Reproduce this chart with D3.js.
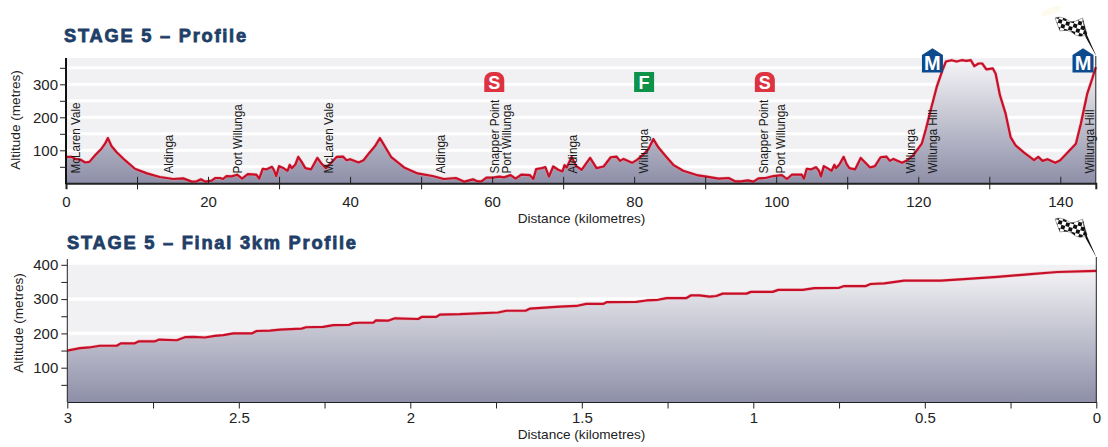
<!DOCTYPE html>
<html>
<head>
<meta charset="utf-8">
<script src="https://cdn.jsdelivr.net/npm/d3@7"></script>
<style>
  html, body { margin: 0; padding: 0; background: #fff; }
  svg { display: block; }
  text { font-family: "Liberation Sans", Arial, sans-serif; fill: #222; }
  .title { font-weight: bold; fill: #1f3f68; stroke: #1f3f68; stroke-width: 0.8px; }
</style>
</head>
<body>
<script>
const stageKm = [0, 0.8, 1.3, 2, 2.7, 3.3, 4.1, 5, 5.5, 5.9, 6.4, 7.1, 8.3, 9.7, 11.4, 13.2, 15.1, 16.5, 17.7, 18.4, 19, 19.6, 20.5, 21, 21.7, 22.1, 22.6, 23.3, 24.1, 24.8, 25.6, 26.8, 27.2, 27.7, 28.2, 29, 29.3, 29.6, 30, 30.6, 31.2, 31.5, 31.8, 32.3, 32.7, 33.2, 33.7, 34.5, 35.4, 36, 36.6, 37.2, 38.1, 39, 39.5, 40, 41.2, 41.9, 42.7, 43.5, 44.2, 45.8, 47.6, 49.5, 51.6, 53.2, 54.9, 56.1, 57.3, 57.9, 58.5, 59.2, 60.1, 61, 61.7, 62.6, 63.3, 64.1, 65.3, 65.8, 66.2, 66.8, 67.5, 68, 68.6, 69.3, 69.9, 70.2, 70.5, 71.2, 71.8, 72.6, 73.8, 74.7, 75.7, 76.7, 77.5, 78, 78.5, 79.7, 80.4, 81.3, 82, 82.7, 83.4, 84.3, 85.5, 86.9, 88.8, 90.2, 91.9, 93.3, 94.2, 95, 96, 96.8, 97.5, 98.5, 99.6, 100.8, 101.5, 102.2, 103.6, 103.9, 104.3, 104.9, 105.6, 106, 106.3, 106.7, 107.2, 107.8, 108.2, 108.4, 108.9, 109.5, 109.9, 110.3, 111.1, 111.9, 112.7, 113.2, 113.9, 114.7, 115.5, 116, 116.5, 117.7, 118.4, 119.3, 120.5, 121.1, 121.8, 122.6, 123.4, 123.9, 124.7, 125.4, 126.1, 126.8, 127.4, 127.9, 128.5, 129, 129.6, 130.5, 130.9, 131.5, 132.3, 133, 133.7, 134.9, 136.3, 136.9, 137.5, 138.2, 139.3, 140, 142.2, 142.9, 143.8, 144.5, 145];
const stageAlt = [80, 80, 74, 72, 63, 65, 85, 105, 120, 137, 113, 95, 70, 44, 30, 19, 13, 15, 5, 6, 12, 5, 8, 16, 16, 13, 22, 21, 26, 14, 28, 26, 14, 44, 42, 50, 39, 22, 52, 46, 38, 56, 46, 57, 80, 64, 46, 42, 77, 59, 46, 59, 80, 81, 70, 73, 63, 70, 92, 112, 137, 79, 48, 30, 22, 13, 16, 5, 12, 6, 6, 17, 17, 20, 18, 25, 14, 26, 25, 13, 43, 45, 49, 20, 51, 41, 36, 55, 48, 80, 53, 41, 77, 46, 51, 79, 81, 68, 74, 62, 71, 87, 103, 134, 109, 86, 56, 38, 25, 20, 14, 16, 6, 6, 9, 5, 15, 16, 22, 25, 13, 26, 26, 14, 44, 42, 49, 39, 21, 52, 46, 38, 56, 46, 57, 80, 59, 46, 42, 77, 59, 48, 52, 79, 81, 68, 74, 62, 69, 85, 120, 166, 226, 292, 342, 369, 373, 369, 373, 371, 373, 355, 363, 363, 345, 348, 332, 267, 211, 140, 115, 93, 70, 80, 68, 73, 62, 70, 120, 181, 272, 317, 352];

const finalKm = [3, 2.963, 2.936, 2.905, 2.856, 2.844, 2.803, 2.791, 2.744, 2.732, 2.681, 2.657, 2.633, 2.599, 2.57, 2.545, 2.516, 2.462, 2.448, 2.409, 2.38, 2.317, 2.304, 2.254, 2.224, 2.178, 2.166, 2.147, 2.108, 2.1, 2.065, 2.045, 1.977, 1.967, 1.924, 1.914, 1.856, 1.744, 1.72, 1.664, 1.652, 1.564, 1.516, 1.487, 1.438, 1.428, 1.341, 1.312, 1.278, 1.253, 1.195, 1.181, 1.157, 1.127, 1.108, 1.089, 1.02, 1.007, 0.944, 0.927, 0.856, 0.822, 0.75, 0.735, 0.672, 0.658, 0.618, 0.56, 0.453, 0.375, 0.288, 0.191, 0.113, 0];
const finalAlt = [150, 157, 159, 164, 164, 171, 171, 177, 177, 182, 180, 189, 190, 188, 193, 195, 200, 200, 207, 208, 211, 214, 218, 219, 224, 225, 230, 231, 231, 238, 237, 244, 242, 248, 248, 255, 256, 261, 266, 266, 272, 278, 280, 286, 286, 291, 292, 296, 298, 303, 303, 311, 311, 307, 309, 316, 316, 321, 321, 327, 327, 332, 333, 338, 338, 344, 346, 354, 354, 359, 365, 373, 379, 382];

const placeNames = ["McLaren Vale", "Aldinga", "Port Willunga", "McLaren Vale", "Aldinga", "Snapper Point", "Port Willunga", "Aldinga", "Willunga", "Snapper Point", "Port Willunga", "Willunga", "Willunga Hill", "Willunga Hill"];
const placeKm = [1.4, 14.5, 24.2, 37, 52.8, 60.4, 62.1, 71.4, 81.3, 98.3, 100.6, 118.9, 122, 144.1];

const markerTypes = ["S", "F", "S", "M", "M"];
const markerKm = [60.3, 81.4, 98.4, 122, 143.2];

const stageTicks = d3.range(0, 141, 10);
const stageAltTicks = [50, 100, 150, 200, 250, 300, 350];
const finalTicks = [3, 2.75, 2.5, 2.25, 2, 1.75, 1.5, 1.25, 1, 0.75, 0.5, 0.25, 0];
const finalAltTicks = [50, 100, 150, 200, 250, 300, 350, 400];

const width = 1108, height = 447;
const lineRed = "#c70f28";

const svg = d3.select("body").append("svg")
  .attr("width", width)
  .attr("height", height);
const defs = svg.append("defs");

// Area gradient, one per panel
function addGradient(id, y1, y2) {
  const g = defs.append("linearGradient")
    .attr("id", id)
    .attr("gradientUnits", "userSpaceOnUse")
    .attr("x1", 0).attr("x2", 0).attr("y1", y1).attr("y2", y2);
  g.append("stop").attr("offset", "0%").attr("stop-color", "#f5f5f7");
  g.append("stop").attr("offset", "100%").attr("stop-color", "#8e8fa8");
}

function drawPanel(opts) {
  const { km, alt, x, y, gradId, bandTop, whiteLines, whiteWidth, title, titleX, titleY, titleSize } = opts;
  const g = svg.append("g");
  const [x0, x1] = x.range();
  const baseY = y(0);

  addGradient(gradId, bandTop + 2, baseY);

  g.append("rect")
    .attr("x", x0).attr("y", bandTop)
    .attr("width", x1 - x0).attr("height", baseY - bandTop)
    .attr("fill", "#f1f1f3");

  g.selectAll(".white")
    .data(whiteLines)
    .join("rect")
    .attr("x", x0)
    .attr("width", x1 - x0)
    .attr("y", d => y(d) - whiteWidth / 2)
    .attr("height", whiteWidth)
    .attr("fill", "#fff");

  const pts = d3.zip(km, alt);

  g.append("path")
    .datum(pts)
    .attr("fill", `url(#${gradId})`)
    .attr("d", d3.area().x(d => x(d[0])).y0(baseY).y1(d => y(d[1])));

  const line = d3.line().x(d => x(d[0])).y(d => y(d[1]));
  // soft pink edge seen round the printed line
  g.append("path")
    .datum(pts)
    .attr("fill", "none")
    .attr("stroke", "#f0a0aa")
    .attr("stroke-opacity", 0.5)
    .attr("stroke-width", 3.4)
    .attr("stroke-linejoin", "round")
    .attr("d", line);
  g.append("path")
    .datum(pts)
    .attr("fill", "none")
    .attr("stroke", lineRed)
    .attr("stroke-width", 2.2)
    .attr("stroke-linejoin", "round")
    .attr("d", line);

  g.append("text")
    .attr("class", "title")
    .attr("x", titleX).attr("y", titleY)
    .style("font-size", titleSize + "px")
    .style("letter-spacing", "1.75px")
    .text(title);

  return g;
}

// Stage panel
const xStage = d3.scaleLinear().domain([0, 145]).range([66, 1095.8]);
const yStage = d3.scaleLinear().domain([0, 100]).range([183.3, 150.3]);

const stagePanel = drawPanel({
  km: stageKm, alt: stageAlt, x: xStage, y: yStage,
  gradId: "gradStage", bandTop: 58, whiteLines: stageAltTicks, whiteWidth: 3,
  title: "STAGE 5 – Profile", titleX: 64, titleY: 42, titleSize: 18.3
});

// Place names
stagePanel.selectAll(".place")
  .data(placeNames)
  .join("text")
  .attr("transform", (d, i) => `translate(${xStage(placeKm[i]) + 4.3},173.5) rotate(-90) scale(0.94,1)`)
  .style("font-size", "12.4px")
  .style("fill", "#1a1a1a")
  .text(d => d);

// Axes
const stageXAxis = stagePanel.append("g")
  .attr("transform", `translate(0,${yStage(0)})`)
  .call(d3.axisBottom(xStage)
    .tickValues(stageTicks)
    .tickFormat(d => d % 20 === 0 ? d : "")
    .tickPadding(9));
stageXAxis.select(".domain").attr("stroke", "#222").attr("stroke-width", 2);
stageXAxis.selectAll(".tick line")
  .attr("stroke", "#222")
  .attr("stroke-width", 1)
  .attr("y1", -6.5)
  .attr("y2", d => d % 20 === 0 ? 0 : 6);
stageXAxis.selectAll(".tick text")
  .attr("y", 13).attr("dy", "0.71em")
  .style("font-size", "15px").style("font-family", null);

const stageYAxis = stagePanel.append("g")
  .attr("transform", "translate(66,0)")
  .call(d3.axisLeft(yStage)
    .tickValues(stageAltTicks)
    .tickFormat(d => d % 100 === 0 ? d : "")
    .tickSizeInner(6).tickSizeOuter(0).tickPadding(2));
stageYAxis.select(".domain")
  .attr("stroke", "#111").attr("stroke-width", 2)
  .attr("d", `M0,58V${yStage(0) + 1}`);
stageYAxis.selectAll(".tick line").attr("stroke", "#222");
stageYAxis.selectAll(".tick text").style("font-size", "15px");

stagePanel.append("line")
  .attr("x1", xStage(145)).attr("x2", xStage(145))
  .attr("y1", 56).attr("y2", yStage(0))
  .attr("stroke", "#222").attr("stroke-width", 1);

stagePanel.append("text")
  .attr("transform", "translate(19.5,120) rotate(-90)")
  .attr("text-anchor", "middle")
  .style("font-size", "13.6px")
  .text("Altitude (metres)");
stagePanel.append("text")
  .attr("x", 581.5).attr("y", 222.5)
  .attr("text-anchor", "middle")
  .style("font-size", "13.6px")
  .text("Distance (kilometres)");

// Category markers
const markerColor = { S: "#dd3341", F: "#0d924a", M: "#0b4a8d" };
const markerG = stagePanel.selectAll(".marker")
  .data(markerTypes)
  .join("g")
  .attr("class", "marker")
  .attr("transform", (d, i) => `translate(${xStage(markerKm[i])},${d === "M" ? 61 : 82})`);
markerG.append("path")
  .attr("fill", d => markerColor[d])
  .attr("d", d => {
    if (d === "S") return "M-10,10V-2C-10,-7 -6,-10 -2,-10H2C6,-10 10,-7 10,-2V10Z";
    if (d === "F") return "M-10,-10H10V10H-10Z";
    return "M-10.5,11.5V-6L0,-12.8L10.5,-6V11.5Z";
  });
markerG.append("text")
  .attr("text-anchor", "middle")
  .attr("y", d => d === "M" ? 8.5 : 6.5)
  .style("font-size", d => d === "M" ? "20px" : "18px")
  .style("font-weight", "bold")
  .style("fill", "#fff")
  .text(d => d);

// Final 3km panel
const xFinal = d3.scaleLinear().domain([3, 0]).range([67.3, 1096.3]);
const yFinal = d3.scaleLinear().domain([0, 400]).range([402, 264.8]);

const finalPanel = drawPanel({
  km: finalKm, alt: finalAlt, x: xFinal, y: yFinal,
  gradId: "gradFinal", bandTop: 264.8, whiteLines: [100, 200, 300], whiteWidth: 3.4,
  title: "STAGE 5 – Final 3km Profile", titleX: 67, titleY: 249, titleSize: 18.3
});

const finalXAxis = finalPanel.append("g")
  .attr("transform", `translate(0,${yFinal(0)})`)
  .call(d3.axisBottom(xFinal)
    .tickValues(finalTicks)
    .tickFormat(d => (d * 2) % 1 === 0 ? d : "")
    .tickSizeInner(6.5).tickSizeOuter(0));
finalXAxis.select(".domain").attr("stroke", "#222").attr("stroke-width", 1);
finalXAxis.selectAll(".tick line").attr("stroke", "#222");
finalXAxis.selectAll(".tick text")
  .attr("y", 10).attr("dy", "0.71em")
  .style("font-size", "15px");

const finalYAxis = finalPanel.append("g")
  .attr("transform", "translate(67.3,0)")
  .call(d3.axisLeft(yFinal)
    .tickValues(finalAltTicks)
    .tickFormat(d => d % 100 === 0 ? d : "")
    .tickSizeInner(6).tickSizeOuter(0).tickPadding(3));
finalYAxis.select(".domain")
  .attr("stroke", "#222").attr("stroke-width", 1)
  .attr("d", `M0,259V${yFinal(0)}`);
finalYAxis.selectAll(".tick line").attr("stroke", "#222");
finalYAxis.selectAll(".tick text").style("font-size", "15px");

finalPanel.append("line")
  .attr("x1", xFinal(0)).attr("x2", xFinal(0))
  .attr("y1", 257).attr("y2", yFinal(0))
  .attr("stroke", "#222").attr("stroke-width", 1);

finalPanel.append("text")
  .attr("transform", "translate(23,323) rotate(-90)")
  .attr("text-anchor", "middle")
  .style("font-size", "13.6px")
  .text("Altitude (metres)");
finalPanel.append("text")
  .attr("x", 581.5).attr("y", 439)
  .attr("text-anchor", "middle")
  .style("font-size", "13.6px")
  .text("Distance (kilometres)");

// Chequered flags, drawn with the pole foot at 0,0
function drawFlag(id, tx, ty, s) {
  const g = svg.append("g").attr("transform", `translate(${tx},${ty}) scale(${s})`);
  const flagPath = "M-41,-38C-36,-40 -31,-38 -27,-35C-23,-33 -18,-36 -13.5,-38L-9,-22C-13,-19 -19,-19 -23,-23C-27,-26 -31,-26 -36,-25Z";
  defs.append("clipPath").attr("id", id).append("path").attr("d", flagPath);

  g.append("path").attr("d", flagPath).attr("fill", "#fff").attr("stroke", "#555").attr("stroke-width", 0.5);

  const cells = g.append("g").attr("clip-path", `url(#${id})`)
    .append("g").attr("transform", "translate(-27,-30) rotate(16)");
  const size = 3.9;
  for (const col of d3.range(-5, 6)) {
    for (const row of d3.range(-4, 5)) {
      if ((col + row) % 2 === 0) {
        cells.append("rect")
          .attr("x", col * size).attr("y", row * size)
          .attr("width", size).attr("height", size)
          .attr("fill", "#111");
      }
    }
  }
  // pole, thickest just under the flag
  g.append("path").attr("d", "M-13.5,-38L-9,-21L0.3,0L-1,-2L-10.5,-19Z").attr("fill", "#111");
}
svg.append("ellipse")
  .attr("cx", 1051).attr("cy", 11).attr("rx", 11).attr("ry", 3.5)
  .attr("transform", "rotate(-20 1051 11)")
  .attr("fill", "#fdfaee");
drawFlag("flagTop", 1096, 56, 1);
drawFlag("flagBottom", 1096, 257, 1);
</script>
</body>
</html>
